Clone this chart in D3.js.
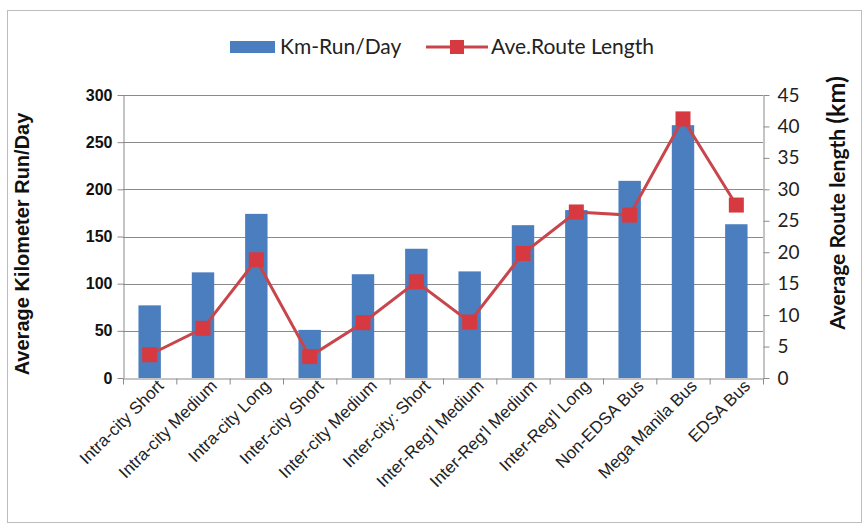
<!DOCTYPE html>
<html>
<head>
<meta charset="utf-8">
<script src="https://cdn.jsdelivr.net/npm/d3@7"></script>
<style>
  body { margin: 0; background: #fff; }
  svg { display: block; }
</style>
</head>
<body>
<div id="chart"></div>
<script>
const categories = ["Intra-city Short", "Intra-city Medium", "Intra-city Long", "Inter-city Short",
    "Inter-city Medium", "Inter-city: Short", "Inter-Reg'l Medium", "Inter-Reg'l Medium",
    "Inter-Reg'l Long", "Non-EDSA Bus", "Mega Manila Bus", "EDSA Bus"];
const kmRunDay = [77, 112, 174, 51, 110, 137, 113, 162, 178, 209, 268, 163];
const routeLength = [3.7, 7.9, 18.8, 3.4, 8.8, 15.3, 8.9, 19.8, 26.4, 25.9, 41.2, 27.5];
const leftTicks = [0, 50, 100, 150, 200, 250, 300];
const rightTicks = [0, 5, 10, 15, 20, 25, 30, 35, 40, 45];

const width = 864;
const height = 527;
const margin = { top: 95, right: 101, bottom: 149, left: 123 };

const barColor = "#4a7ebf";
const lineColor = "#c8464b";
const markerColor = "#d63a40";

const svg = d3.select("#chart").append("svg")
    .attr("width", width)
    .attr("height", height);

// outer frame
svg.append("rect")
    .attr("x", 7.5).attr("y", 10.5)
    .attr("width", 854).attr("height", 512)
    .attr("fill", "#fff")
    .attr("stroke", "#bdbdbd");

const x = d3.scaleBand()
    .domain(d3.range(categories.length))
    .range([margin.left, width - margin.right])
    .paddingInner(0.58)
    .paddingOuter(0.29);

const xTicks = d3.scaleLinear()
    .domain([0, categories.length])
    .range([margin.left, width - margin.right]);

const yLeft = d3.scaleLinear()
    .domain([0, 300])
    .range([height - margin.bottom, margin.top]);

const yRight = d3.scaleLinear()
    .domain([0, 45])
    .range([height - margin.bottom, margin.top]);

// gridlines
svg.append("g")
    .selectAll("line")
    .data(leftTicks.slice(1))
    .join("line")
    .attr("x1", margin.left).attr("x2", width - margin.right)
    .attr("y1", d => Math.round(yLeft(d)) + 0.5)
    .attr("y2", d => Math.round(yLeft(d)) + 0.5)
    .attr("stroke", "#8a8a8a");

// bars
svg.append("g")
    .selectAll("rect")
    .data(kmRunDay)
    .join("rect")
    .attr("x", (d, i) => x(i))
    .attr("y", d => yLeft(d))
    .attr("width", x.bandwidth())
    .attr("height", d => yLeft(0) - yLeft(d))
    .attr("fill", barColor);

// left axis
const leftAxis = svg.append("g")
    .attr("transform", `translate(${margin.left + 0.5},0)`)
    .call(d3.axisLeft(yLeft).tickValues(leftTicks).tickSize(6).tickSizeOuter(0).tickPadding(5));
leftAxis.selectAll("text")
    .attr("font-family", "Liberation Sans, Arial, sans-serif")
    .attr("font-weight", "bold")
    .attr("font-size", 16)
    .attr("fill", "#111");

// right axis
const rightAxis = svg.append("g")
    .attr("transform", `translate(${width - margin.right + 0.5},0)`)
    .call(d3.axisRight(yRight).tickValues(rightTicks).tickSize(6).tickSizeOuter(0).tickPadding(8));
rightAxis.selectAll("text")
    .attr("font-family", "Lato, Open Sans, sans-serif")
    .attr("font-size", 19)
    .attr("fill", "#222");

[leftAxis, rightAxis].forEach(a => {
    a.select(".domain").attr("stroke", "#8a8a8a");
    a.selectAll(".tick line").attr("stroke", "#8a8a8a");
});

// x axis with ticks at band edges
const xAxis = svg.append("g")
    .attr("transform", `translate(0,${height - margin.bottom + 0.5})`)
    .call(d3.axisBottom(xTicks).ticks(categories.length).tickSize(6).tickSizeOuter(0).tickFormat(""));
xAxis.select(".domain").attr("stroke", "#8a8a8a");
xAxis.selectAll(".tick line").attr("stroke", "#8a8a8a");

// category labels, rotated
svg.append("g")
    .selectAll("text")
    .data(categories)
    .join("text")
    .attr("transform", (d, i) => `translate(${x(i) + x.bandwidth() / 2 + 15},${height - margin.bottom + 9}) rotate(-45)`)
    .attr("text-anchor", "end")
    .attr("font-family", "Liberation Sans, Arial, sans-serif")
    .attr("font-size", 17)
    .attr("fill", "#222")
    .text(d => d);

// route length line
const line = d3.line()
    .x((d, i) => x(i) + x.bandwidth() / 2)
    .y(d => yRight(d));

svg.append("path")
    .datum(routeLength)
    .attr("fill", "none")
    .attr("stroke", lineColor)
    .attr("stroke-width", 3)
    .attr("d", line);

const ms = 15;
svg.append("g")
    .selectAll("rect")
    .data(routeLength)
    .join("rect")
    .attr("x", (d, i) => x(i) + x.bandwidth() / 2 - ms / 2)
    .attr("y", d => yRight(d) - ms / 2)
    .attr("width", ms)
    .attr("height", ms)
    .attr("fill", markerColor);

// axis titles
svg.append("text")
    .attr("transform", `translate(${29},${244}) rotate(-90)`)
    .attr("text-anchor", "middle")
    .attr("font-family", "Liberation Sans, Arial, sans-serif")
    .attr("font-weight", "bold")
    .attr("font-size", 20)
    .attr("fill", "#111")
    .text("Average Kilometer Run/Day");

const rt = svg.append("text")
    .attr("transform", `translate(${845},${203}) rotate(-90)`)
    .attr("text-anchor", "middle")
    .attr("font-family", "Lato, Open Sans, sans-serif")
    .attr("font-weight", "bold")
    .attr("font-size", 21)
    .attr("fill", "#111");
rt.append("tspan").text("Average Route length ");
rt.append("tspan").attr("font-size", 25).text("(km)");

// legend
const legend = svg.append("g").attr("transform", "translate(230,47)");
legend.append("rect")
    .attr("x", 0).attr("y", -6)
    .attr("width", 45).attr("height", 12)
    .attr("fill", barColor);
legend.append("text")
    .attr("x", 50).attr("y", 7)
    .attr("font-family", "Lato, Open Sans, sans-serif")
    .attr("font-size", 21)
    .attr("fill", "#222")
    .text("Km-Run/Day");
legend.append("line")
    .attr("x1", 196).attr("x2", 258)
    .attr("y1", 0).attr("y2", 0)
    .attr("stroke", lineColor)
    .attr("stroke-width", 3);
legend.append("rect")
    .attr("x", 220).attr("y", -7)
    .attr("width", 14).attr("height", 14)
    .attr("fill", markerColor);
legend.append("text")
    .attr("x", 261).attr("y", 7)
    .attr("font-family", "Lato, Open Sans, sans-serif")
    .attr("font-size", 21)
    .attr("fill", "#222")
    .text("Ave.Route Length");
</script>
</body>
</html>
